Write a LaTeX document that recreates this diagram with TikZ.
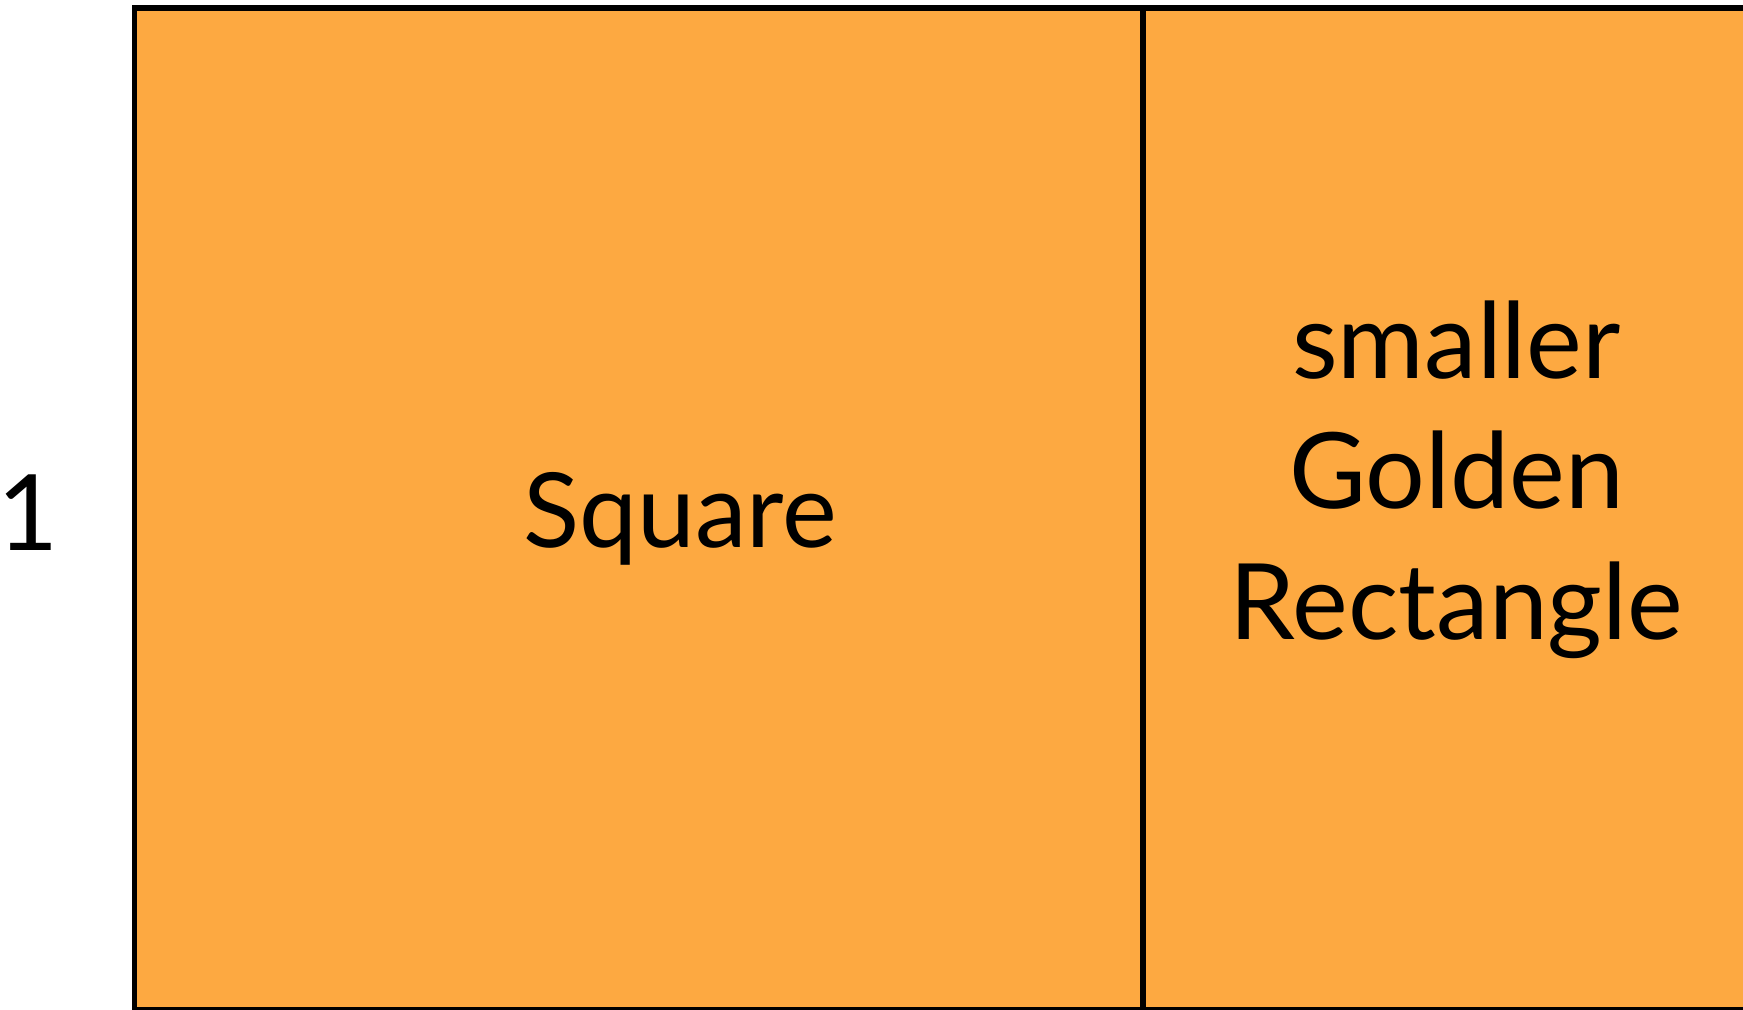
\documentclass[tikz,border=0pt]{standalone}
\usepackage{fontspec}
\setmainfont{Lato}
\usepackage{xcolor}
\usetikzlibrary{positioning}
\definecolor{GROrange}{RGB}{253,169,65}

\begin{document}
\begin{tikzpicture}[
          edge/.style={draw=black, line width=1.45pt},
          lbl/.style={inner sep=0pt, align=center, font=\fontsize{30}{37}\selectfont}
        ]
        \useasboundingbox (0,0) rectangle (17.43,10.09);
        % outer rectangle
        \fill[GROrange] (1.345,-0.01) rectangle (17.6,10.01);
        \draw[edge] (1.345,-0.01) rectangle (17.6,10.01);
        % square | smaller golden rectangle
        \coordinate (divtop) at (11.43,10.01);
        \coordinate (divbot) at (11.43,-0.01);
        \draw[edge] (divtop) -- (divbot);

        % labels
        \node[lbl, anchor=base] (side) at (0.28,4.59) {1};
        \node[lbl, anchor=base, font=\fontsize{29.5}{35}\selectfont]
              (sq) at (6.80,4.62) {Square};
        \node[lbl, anchor=base] (gr) at (14.565,3.70)
              {smaller\\Golden\\Rectangle};
\end{tikzpicture}
\end{document}
